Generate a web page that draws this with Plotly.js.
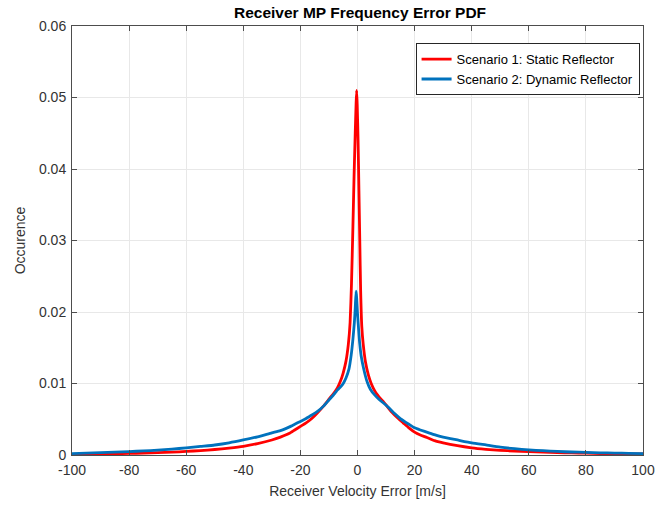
<!DOCTYPE html>
<html>
<head>
<meta charset="utf-8">
<script src="https://cdn.plot.ly/plotly-3.0.1.min.js"></script>
<style>html,body{margin:0;padding:0;background:#fff}#chart{width:657px;height:506px}</style>
</head>
<body>
<div id="chart"></div>
<script>
// Scenario 1: Static Reflector
var xStatic = [-100,-95,-90,-85,-80,-75,-70,-65,-60,-55,-50,-45,-40,-35,-30,-27,-24,-22,-20,-18,-16,-14,-12,-10,-9,-8,-7,-6,-5,-4,-3.2,-2.6,-2.1,-1.6,-1.2,-0.8,-0.5,-0.3,-0.1,0.2,0.5,0.8,1.1,1.5,2.0,2.8,3.8,4.8,6,7,8,9,10,12,14,16,18,20,22,24,27,30,35,40,45,50,55,60,65,70,75,80,85,90,95,100];
var yStatic = [0.00010,0.00012,0.00015,0.00018,0.00022,0.00027,0.00033,0.00040,0.00050,0.00062,0.00077,0.00097,0.00122,0.00160,0.0021,0.0025,0.0030,0.0035,0.0040,0.0045,0.0051,0.0059,0.0068,0.0078,0.0083,0.0088,0.0094,0.0103,0.0115,0.0132,0.0155,0.0185,0.0240,0.0320,0.0390,0.0450,0.0490,0.0510,0.0490,0.0440,0.0370,0.0300,0.0230,0.0180,0.0155,0.0130,0.0112,0.0100,0.0090,0.0084,0.0079,0.0075,0.0070,0.0060,0.0052,0.0045,0.0038,0.0032,0.0028,0.0025,0.0020,0.0017,0.0013,0.0010,0.0008,0.00065,0.00055,0.00047,0.00040,0.00034,0.00029,0.00025,0.00021,0.00018,0.00016,0.00014];
// Scenario 2: Dynamic Reflector
var xDynamic = [-100,-95,-90,-85,-80,-75,-70,-65,-60,-55,-50,-45,-40,-35,-30,-27,-24,-22,-20,-18,-16,-14,-12,-10,-8,-7,-6,-5,-4,-3,-2.2,-1.6,-1.1,-0.8,-0.5,-0.3,0,0.4,0.8,1.3,2.2,3.4,4.5,6,7.5,9.3,11,13,15,18,20,22,25,28,30,35,40,45,50,55,60,65,70,75,80,85,90,95,100];
var yDynamic = [0.00020,0.00026,0.00032,0.00040,0.00048,0.00057,0.00068,0.00082,0.00100,0.00120,0.00140,0.00170,0.00210,0.00255,0.0031,0.0034,0.0039,0.0043,0.0047,0.0051,0.0056,0.0061,0.0068,0.0077,0.0086,0.0091,0.0095,0.0100,0.0108,0.0120,0.0140,0.0162,0.0185,0.0205,0.0229,0.0220,0.0198,0.0175,0.0155,0.0138,0.0120,0.0102,0.0092,0.0084,0.0078,0.0072,0.0066,0.0058,0.0051,0.0043,0.0038,0.0035,0.0031,0.0027,0.0025,0.0021,0.0017,0.0014,0.0011,0.00088,0.00072,0.00060,0.00050,0.00042,0.00036,0.00031,0.00027,0.00023,0.00020];
var seriesNames = ['Scenario 1: Static Reflector','Scenario 2: Dynamic Reflector'];
var xTickVals = [-100,-80,-60,-40,-20,0,20,40,60,80,100];
var xTickText = ['-100','-80','-60','-40','-20','0','20','40','60','80','100'];
var yTickVals = [0,0.01,0.02,0.03,0.04,0.05,0.06];
var yTickText = ['0','0.01','0.02','0.03','0.04','0.05','0.06'];

var font = 'Liberation Sans, Arial, sans-serif';
var traces = [
  {x: xStatic, y: yStatic, type: 'scatter', mode: 'lines', name: seriesNames[0],
   line: {color: '#ff0000', width: 2.8, shape: 'spline', smoothing: 0.5}},
  {x: xDynamic, y: yDynamic, type: 'scatter', mode: 'lines', name: seriesNames[1],
   line: {color: '#0072bd', width: 2.8, shape: 'spline', smoothing: 0.5}}
];
var axisCommon = {
  showline: true, linecolor: '#4d4d4d', linewidth: 1, mirror: 'ticks',
  ticks: 'inside', ticklen: 5, tickcolor: '#4d4d4d',
  showgrid: true, gridcolor: '#e8e8e8', gridwidth: 1, zeroline: false,
  tickfont: {family: font, size: 14, color: '#333333'}
};
var layout = {
  width: 657, height: 506,
  margin: {l: 72, r: 14, t: 26, b: 51},
  paper_bgcolor: '#ffffff', plot_bgcolor: '#ffffff',
  font: {family: font, color: '#262626'},
  title: {text: '<b>Receiver MP Frequency Error PDF</b>', x: 0.548, xanchor: 'center', y: 0.975, yanchor: 'middle',
          font: {family: font, size: 15.5, color: '#000000'}},
  xaxis: Object.assign({}, axisCommon, {
    range: [-100, 100], tickvals: xTickVals, ticktext: xTickText, ticklabelstandoff: 2,
    title: {text: 'Receiver Velocity Error [m/s]', standoff: 9, font: {family: font, size: 14, color: '#333333'}}
  }),
  yaxis: Object.assign({}, axisCommon, {
    range: [0, 0.06], tickvals: yTickVals, ticktext: yTickText, ticklabelstandoff: 2,
    title: {text: 'Occurence', standoff: 10, font: {family: font, size: 14, color: '#333333'}}
  }),
  showlegend: true,
  legend: {x: 0.994, xanchor: 'right', y: 0.960, yanchor: 'top',
           bgcolor: '#ffffff', bordercolor: '#262626', borderwidth: 1,
           font: {family: font, size: 13, color: '#000000'}, tracegroupgap: 0}
};
Plotly.newPlot('chart', traces, layout, {displayModeBar: false, staticPlot: true});
</script>
</body>
</html>
